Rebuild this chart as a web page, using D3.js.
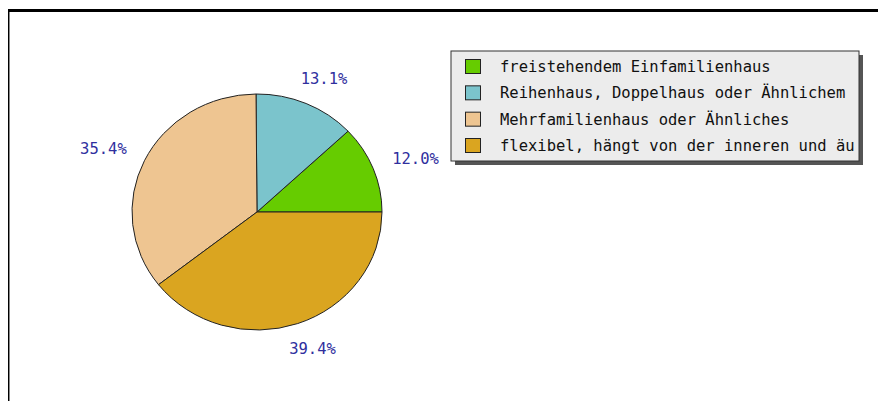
<!DOCTYPE html>
<html>
<head>
<meta charset="utf-8">
<script src="https://cdn.jsdelivr.net/npm/d3@7"></script>
<style>
  body { margin: 0; background: #fff; }
  svg { display: block; }
  text { font-family: "DejaVu Sans Mono", monospace; font-size: 15.5px; }
</style>
</head>
<body>
<svg id="chart" width="878" height="401"></svg>
<script>
const categories = [
  'freistehendem Einfamilienhaus',
  'Reihenhaus, Doppelhaus oder Ähnlichem',
  'Mehrfamilienhaus oder Ähnliches',
  'flexibel, hängt von der inneren und äu'
]
const values = [12.0, 13.1, 35.4, 39.4]
const colors = ['#66cc00', '#7bc4cc', '#eec591', '#daa520']

const svg = d3.select('#chart')

// frame (top + left edge visible)
svg.append('rect').attr('x', 8).attr('y', 9).attr('width', 870).attr('height', 3).attr('fill', '#000')
svg.append('rect').attr('x', 8).attr('y', 9).attr('width', 1).attr('height', 392).attr('fill', '#000')
svg.append('rect').attr('x', 9).attr('y', 12).attr('width', 1).attr('height', 389).attr('fill', '#888')

const cx = 257, cy = 212, rx = 125, ry = 118
const total = d3.sum(values)

// counterclockwise from 3 o'clock
const pie = d3.pie().sort(null).startAngle(Math.PI / 2).endAngle(Math.PI / 2 - 2 * Math.PI)
const arcs = pie(values)
const arc = d3.arc().innerRadius(0).outerRadius(rx)

const g = svg.append('g').attr('transform', `translate(${cx},${cy}) scale(1,${ry / rx})`)
g.selectAll('path')
  .data(arcs)
  .join('path')
  .attr('d', arc)
  .attr('fill', (d, i) => colors[i])
  .attr('stroke', '#222')
  .attr('stroke-width', 1)
  .attr('vector-effect', 'non-scaling-stroke')

const fmt = d3.format('.1f')
const lr = 147
const tw = 47, th = 12
svg.append('g').selectAll('text')
  .data(arcs)
  .join('text')
  .each(function (d) {
    const mid = (d.startAngle + d.endAngle) / 2
    const sx = Math.sin(mid), sy = -Math.cos(mid)
    const x = cx + lr * sx + sx * tw / 2
    const y = cy + lr * (ry / rx) * sy + sy * th / 2
    d3.select(this).attr('x', x).attr('y', y)
  })
  .attr('text-anchor', 'middle')
  .attr('dominant-baseline', 'central')
  .attr('fill', '#2f2f9e')
  .text(d => fmt(d.value / total * 100) + '%')

// legend
const lx = 451, ly = 51, lw = 408, lh = 110
svg.append('rect').attr('x', lx + 4).attr('y', ly + 4).attr('width', lw).attr('height', lh).attr('fill', '#555')
svg.append('rect').attr('x', lx).attr('y', ly).attr('width', lw).attr('height', lh)
  .attr('fill', '#ececec').attr('stroke', '#333').attr('stroke-width', 1)

const rows = d3.scalePoint().domain(d3.range(categories.length)).range([67, 146])
const items = svg.append('g').selectAll('g')
  .data(categories)
  .join('g')
  .attr('transform', (d, i) => `translate(0,${rows(i)})`)
items.append('rect')
  .attr('x', 465.5).attr('y', -7.5).attr('width', 15).attr('height', 14)
  .attr('fill', (d, i) => colors[i]).attr('stroke', '#222').attr('stroke-width', 1)
items.append('text')
  .attr('x', 500).attr('y', 0)
  .attr('dominant-baseline', 'central')
  .attr('fill', '#111')
  .text(d => d)
</script>
</body>
</html>
